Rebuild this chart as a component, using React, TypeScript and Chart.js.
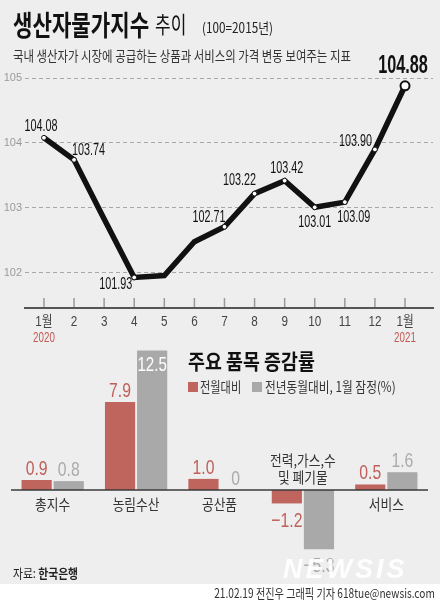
import React, { useEffect, useRef } from "react";
import { Chart, registerables } from "chart.js";
Chart.register(...registerables);

// ---------- data ----------
const monthLabels = ["1월", "2", "3", "4", "5", "6", "7", "8", "9", "10", "11", "12", "1월"];
const yearLabels = ["2020", "", "", "", "", "", "", "", "", "", "", "", "2021"];
const ppiValues = [104.08, 103.74, 102.83, 101.93, 101.96, 102.48, 102.71, 103.22, 103.42, 103.01, 103.09, 103.9, 104.88];
const ppiLabeled = [true, true, false, true, false, false, true, true, true, true, true, true, true];
const yAxisMin = 101.46;
const yAxisMax = 105;

const categories = [["총지수"], ["농림수산"], ["공산품"], ["전력,가스,수", "및 폐기물"], ["서비스"]];
const momChange = [0.9, 7.9, 1.0, -1.2, 0.5];
const yoyChange = [0.8, 12.5, 0, -5.3, 1.6];
const seriesNames = ["전월대비", "전년동월대비, 1월 잠정(%)"];
const barAxisMin = -6;
const barAxisMax = 13;

// ---------- styles ----------
const RED = "#c0645e";
const GRAY = "#a9a9a9";
const NUM_FONT = "'Liberation Sans', Arial, sans-serif";
const KR_FONT = "'Noto Sans CJK KR', sans-serif";
// label offsets (px) relative to each point
const lineLabelOffsets: (number[] | null)[] = [
  [-3, -11], [14.5, -9.5], null, [-18.5, 7], null, null, [-15.5, -9.5], [-15, -13], [2, -12], [0, 15], [9, 15], [-19.5, -8], [-2, -20],
];

function drawText(
  ctx: CanvasRenderingContext2D, text: string, x: number, y: number,
  font: string, color: string, align: CanvasTextAlign, baseline: CanvasTextBaseline, sx: number
) {
  ctx.save();
  ctx.font = font;
  ctx.fillStyle = color;
  ctx.textAlign = align;
  ctx.textBaseline = baseline;
  ctx.translate(x, y);
  ctx.scale(sx, 1);
  ctx.fillText(text, 0, 0);
  ctx.restore();
}

const lineDecor = {
  id: "lineDecor",
  afterDraw(chart: any) {
    const ctx = chart.ctx as CanvasRenderingContext2D;
    const xs = chart.scales.x;
    const bottom = chart.chartArea.bottom;
    for (let i = 0; i < monthLabels.length; i++) {
      const x = xs.getPixelForValue(i);
      ctx.save();
      ctx.strokeStyle = "#9a9a9a";
      ctx.lineWidth = 1.5;
      ctx.beginPath();
      ctx.moveTo(x, bottom - 10);
      ctx.lineTo(x, bottom - 1);
      ctx.stroke();
      ctx.restore();
      drawText(ctx, monthLabels[i], x, bottom + 14, `15px ${NUM_FONT}, ${KR_FONT}`, "#444", "center", "middle", 0.78);
      if (yearLabels[i]) {
        drawText(ctx, yearLabels[i], x, bottom + 30, `14px ${NUM_FONT}`, "#c25b56", "center", "middle", 0.7);
      }
    }
    const meta = chart.getDatasetMeta(0);
    const last = ppiValues.length - 1;
    meta.data.forEach((pt: any, i: number) => {
      const off = lineLabelOffsets[i];
      if (!off || !ppiLabeled[i]) return;
      const big = i === last;
      drawText(
        ctx, ppiValues[i].toFixed(2), pt.x + off[0], pt.y + off[1],
        big ? `bold 25px ${NUM_FONT}` : `16px ${NUM_FONT}`, "#111", "center", "middle", big ? 0.65 : 0.675
      );
    });
  },
};

const fmt = (v: number) => (v < 0 ? "\u2212" + Math.abs(v).toFixed(1) : v === 0 ? "0" : v.toFixed(1));

const barDecor = {
  id: "barDecor",
  afterDatasetsDraw(chart: any) {
    const ctx = chart.ctx as CanvasRenderingContext2D;
    const area = chart.chartArea;
    const y0 = chart.scales.y.getPixelForValue(0);
    ctx.save();
    ctx.strokeStyle = "#3a3a3a";
    ctx.lineWidth = 1.5;
    ctx.beginPath();
    ctx.moveTo(area.left, y0);
    ctx.lineTo(area.right, y0);
    ctx.stroke();
    ctx.restore();
    const textColors = ["#c0605a", "#ababab"];
    const series = [momChange, yoyChange];
    series.forEach((vals, d) => {
      const meta = chart.getDatasetMeta(d);
      meta.data.forEach((bar: any, i: number) => {
        const v = vals[i];
        const font = `21px ${NUM_FONT}`;
        if (v >= 0) {
          if (bar.y - 24 < area.top) {
            drawText(ctx, fmt(v), bar.x, bar.y + 4, font, "#fff", "center", "top", 0.72);
          } else {
            drawText(ctx, fmt(v), bar.x, bar.y - 5, font, textColors[d], "center", "alphabetic", 0.75);
          }
        } else {
          drawText(ctx, fmt(v), bar.x, bar.y + 7, font, textColors[d], "center", "top", 0.75);
        }
      });
    });
    const xs = chart.scales.x;
    categories.forEach((lines, i) => {
      const x = xs.getPixelForValue(i);
      const neg = Math.min(momChange[i], yoyChange[i]) < 0;
      lines.forEach((ln, k) => {
        const y = neg ? y0 - 13 - (lines.length - 1 - k) * 17 : y0 + 14 + k * 17;
        drawText(ctx, ln, x, y, `15px ${KR_FONT}`, "#333", "center", "middle", 0.85);
      });
    });
  },
};

type TProps = {
  x?: number; right?: number; y: number; size: number; weight?: number; sx: number;
  color?: string; children: React.ReactNode; italic?: boolean; family?: string; spacing?: number;
};
function T({ x, right, y, size, weight = 400, sx, color = "#222", children, italic, family, spacing }: TProps) {
  const style: React.CSSProperties = {
    position: "absolute",
    top: y,
    fontSize: size,
    lineHeight: `${size}px`,
    fontWeight: weight,
    color,
    whiteSpace: "nowrap",
    transform: `scaleX(${sx})`,
    transformOrigin: right !== undefined ? "right top" : "left top",
    fontFamily: family || KR_FONT,
    fontStyle: italic ? "italic" : "normal",
    letterSpacing: spacing ? `${spacing}px` : undefined,
  };
  if (right !== undefined) style.right = right;
  else style.left = x;
  return <div style={style}>{children}</div>;
}

export default function App() {
  const lineRef = useRef<HTMLCanvasElement>(null);
  const barRef = useRef<HTMLCanvasElement>(null);

  useEffect(() => {
    const last = ppiValues.length - 1;
    const intOnly = (s: any) => {
      s.ticks = s.ticks.filter((t: any) => Number.isInteger(t.value));
    };
    const lc = new Chart(lineRef.current!, {
      type: "line",
      data: {
        datasets: [
          {
            data: ppiValues.map((v, i) => ({ x: i, y: v })),
            borderColor: "#111",
            borderWidth: 5.5,
            tension: 0,
            clip: false as any,
            pointRadius: ppiValues.map((_, i) => (i === last ? 4.5 : ppiLabeled[i] ? 2.4 : 0)),
            pointBackgroundColor: "#fff",
            pointBorderColor: "#111",
            pointBorderWidth: ppiValues.map((_, i) => (i === last ? 2 : 1)),
          },
        ],
      },
      options: {
        responsive: false,
        animation: false,
        layout: { padding: { top: 78, right: 7, left: 0, bottom: 0 } },
        plugins: { legend: { display: false }, tooltip: { enabled: false } },
        scales: {
          x: {
            type: "linear",
            min: -0.63,
            max: 12.93,
            afterBuildTicks: intOnly,
            ticks: { display: false, stepSize: 1 },
            grid: { display: false, drawTicks: false },
            border: { display: true, color: "#555", width: 2 },
            afterFit: (s: any) => { s.height = 37; },
          },
          y: {
            min: yAxisMin,
            max: yAxisMax,
            afterBuildTicks: intOnly,
            ticks: { stepSize: 1, padding: 3, color: "#9a9a9a", font: { family: "'Liberation Sans Narrow', 'Liberation Sans'", size: 11 } },
            grid: { color: "#a8a8a8", lineWidth: 1, drawTicks: false },
            border: { display: false, dash: [4, 3] },
            afterFit: (s: any) => { s.width = 25; },
          },
        },
      } as any,
      plugins: [lineDecor],
    });

    const bc = new Chart(barRef.current!, {
      type: "bar",
      data: {
        labels: categories.map((c) => c.join(" ")),
        datasets: [
          { label: seriesNames[0], data: momChange, backgroundColor: RED, categoryPercentage: 0.77, barPercentage: 0.94 },
          { label: seriesNames[1], data: yoyChange, backgroundColor: GRAY, categoryPercentage: 0.77, barPercentage: 0.94 },
        ],
      },
      options: {
        responsive: false,
        animation: false,
        layout: { padding: { left: 11, right: 12, top: 0, bottom: 26 } },
        plugins: { legend: { display: false }, tooltip: { enabled: false } },
        scales: {
          x: { display: false },
          y: { display: false, min: barAxisMin, max: barAxisMax },
        },
      },
      plugins: [barDecor],
    });

    return () => {
      lc.destroy();
      bc.destroy();
    };
  }, []);

  return (
    <div style={{ position: "absolute", left: 0, top: 0, width: 440, height: 600, background: "#fff", overflow: "hidden" }}>
      <div style={{ position: "absolute", left: 0, top: 0, width: 440, height: 584, background: "#eeeeee" }} />
      <canvas ref={lineRef} width={440} height={345} style={{ position: "absolute", left: 0, top: 0 }} />
      <canvas ref={barRef} width={440} height={238} style={{ position: "absolute", left: 0, top: 345 }} />

      <T x={13} y={10} size={28} weight={700} sx={0.755} color="#111">생산자물가지수</T>
      <T x={155} y={12} size={23} weight={400} sx={0.74} color="#111">추이</T>
      <T x={202} y={20} size={14} sx={0.84} color="#222">(100=2015년)</T>
      <T x={13} y={48} size={14} sx={0.815} color="#333">국내 생산자가 시장에 공급하는 상품과 서비스의 가격 변동 보여주는 지표</T>

      <T x={188} y={350} size={21} weight={700} sx={0.876} color="#111">주요 품목 증감률</T>
      <div style={{ position: "absolute", left: 188, top: 382, width: 10, height: 10, background: RED }} />
      <T x={200} y={379} size={14} sx={0.8} color="#333">{seriesNames[0]}</T>
      <div style={{ position: "absolute", left: 252, top: 382, width: 10, height: 10, background: GRAY }} />
      <T x={265} y={379} size={14} sx={0.836} color="#333">{seriesNames[1]}</T>

      <T x={13} y={566} size={13} sx={0.83} color="#222">
        자료: <span style={{ fontWeight: 700 }}>한국은행</span>
      </T>
      <T x={283} y={556} size={27} weight={700} italic sx={1} spacing={3} family={NUM_FONT} color="rgba(255,255,255,0.9)">NEWSIS</T>
      <T right={5} y={586} size={13} sx={0.78} color="#333">21.02.19 전진우 그래픽 기자 618tue@newsis.com</T>
    </div>
  );
}
